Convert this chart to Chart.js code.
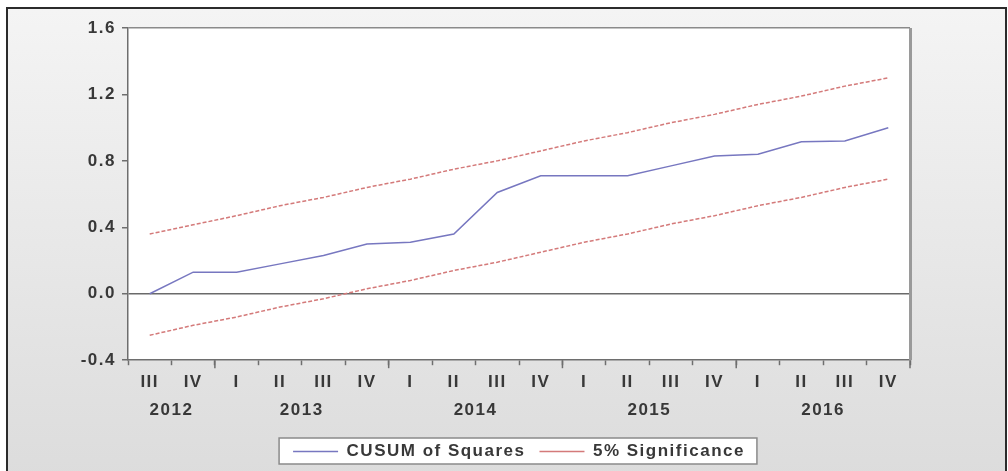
<!DOCTYPE html>
<html>
<head>
<meta charset="utf-8">
<script src="https://cdn.jsdelivr.net/npm/chart.js@4/dist/chart.umd.min.js"></script>
<style>
  html, body { margin: 0; padding: 0; background: #fff; }
  #frame {
    position: absolute; left: 6px; top: 7px; width: 997px; height: 470px;
    border: 2px solid #2b2b2b;
    background: linear-gradient(#f4f4f4, #dcdcdc);
  }
  #wrap { position: absolute; left: 0; top: 0; width: 1008px; height: 471px; }
</style>
</head>
<body>
<div id="frame"></div>
<div id="wrap"><canvas id="cusum" width="1008" height="471"></canvas></div>
<script>
// quarters 2012Q3 .. 2016Q4
var quarters = ['III', 'IV', 'I', 'II', 'III', 'IV', 'I', 'II', 'III', 'IV', 'I', 'II', 'III', 'IV', 'I', 'II', 'III', 'IV'];
var years = ['2012', '2013', '2014', '2015', '2016'];
var quartersPerYear = [2, 4, 4, 4, 4];

var cusumSq = [0.00, 0.13, 0.13, 0.18, 0.23, 0.30, 0.31, 0.36, 0.61, 0.71, 0.71, 0.71, 0.77, 0.83, 0.84, 0.915, 0.92, 1.00];
var upperBound = [0.36, 0.415, 0.47, 0.53, 0.58, 0.64, 0.69, 0.75, 0.80, 0.86, 0.92, 0.97, 1.03, 1.08, 1.14, 1.19, 1.25, 1.30];
var lowerBound = [-0.25, -0.19, -0.14, -0.08, -0.03, 0.03, 0.08, 0.14, 0.19, 0.25, 0.31, 0.36, 0.42, 0.47, 0.53, 0.58, 0.64, 0.69];

var yTicks = [-0.4, 0.0, 0.4, 0.8, 1.2, 1.6];

// year label positions = middle of each year's quarters (category index units)
var yearCenters = [];
var yearBounds = [];
(function () {
  var start = 0;
  quartersPerYear.forEach(function (n) {
    yearCenters.push(start + (n - 1) / 2);
    start += n;
    yearBounds.push(start);
  });
})();

var FONT = { family: "'Liberation Sans', Arial, sans-serif", size: 17, weight: 'bold' };
var TXT = '#383838';
var AXIS = '#6e6e6e';

function legendFrame(chart) {
  var hb = chart.legend && chart.legend.legendHitBoxes;
  if (!hb || !hb.length) return null;
  var first = hb[0], last = hb[hb.length - 1];
  var l = first.left - 14, r = last.left + last.width + 12;
  return { x: l, y: first.top - 5, w: r - l, h: first.height + 9 };
}

// wide lettering, white plot background, longer year ticks, legend frame
var decor = {
  id: 'decor',
  beforeUpdate: function (chart) {
    chart.ctx.letterSpacing = '1.5px';
  },
  beforeDraw: function (chart) {
    var a = chart.chartArea, ctx = chart.ctx;
    ctx.save();
    ctx.fillStyle = '#ffffff';
    ctx.fillRect(a.left, a.top, a.right - a.left, a.bottom - a.top);
    var f = legendFrame(chart);
    if (f) ctx.fillRect(f.x, f.y, f.w, f.h);
    ctx.restore();
  },
  afterDraw: function (chart) {
    var ctx = chart.ctx, x = chart.scales.x, a = chart.chartArea;
    ctx.save();
    ctx.strokeStyle = AXIS;
    ctx.lineWidth = 1.5;
    yearBounds.forEach(function (b) {
      var px = b >= quarters.length ? a.right : (x.getPixelForValue(b - 1) + x.getPixelForValue(b)) / 2;
      ctx.beginPath();
      ctx.moveTo(px, a.bottom);
      ctx.lineTo(px, a.bottom + 8);
      ctx.stroke();
    });
    // right frame of the plot
    ctx.strokeStyle = '#9a9a9a';
    ctx.lineWidth = 3;
    ctx.beginPath();
    ctx.moveTo(a.right + 0.5, a.top);
    ctx.lineTo(a.right + 0.5, a.bottom);
    ctx.stroke();
    var f = legendFrame(chart);
    if (f) {
      ctx.strokeStyle = '#8a8a8a';
      ctx.lineWidth = 1.5;
      ctx.strokeRect(f.x, f.y, f.w, f.h);
    }
    ctx.restore();
  }
};

new Chart(document.getElementById('cusum'), {
  type: 'line',
  data: {
    labels: quarters,
    datasets: [{
      label: 'CUSUM of Squares',
      data: cusumSq,
      borderColor: '#7777c0',
      borderWidth: 1.5,
      pointRadius: 0,
      fill: false,
      tension: 0
    }, {
      label: '5% Significance',
      data: upperBound,
      borderColor: '#d47a7a',
      borderWidth: 1.5,
      borderDash: [4, 2],
      pointRadius: 0,
      fill: false,
      tension: 0
    }, {
      label: 'lower',
      data: lowerBound,
      borderColor: '#d47a7a',
      borderWidth: 1.5,
      borderDash: [4, 2],
      pointRadius: 0,
      fill: false,
      tension: 0
    }]
  },
  options: {
    responsive: false,
    animation: false,
    layout: { padding: { top: 28, right: 98, left: 60, bottom: 1 } },
    plugins: {
      tooltip: { enabled: false },
      legend: {
        position: 'bottom',
        fullSize: false,
        labels: {
          font: FONT,
          color: TXT,
          usePointStyle: true,
          pointStyle: 'line',
          pointStyleWidth: 45,
          boxHeight: 14,
          padding: 14,
          filter: function (item) { return item.text !== 'lower'; }
        }
      }
    },
    scales: {
      x: {
        type: 'category',
        offset: true,
        grid: {
          offset: true,
          drawOnChartArea: false,
          tickLength: 5,
          tickColor: AXIS,
          tickWidth: 1.5
        },
        border: { color: AXIS, width: 1.5 },
        ticks: {
          font: FONT,
          color: TXT,
          padding: 7,
          maxRotation: 0,
          autoSkip: false
        }
      },
      xYear: {
        type: 'linear',
        position: 'bottom',
        min: -0.5,
        max: quarters.length - 0.5,
        grid: { display: false, drawTicks: false },
        border: { display: false },
        afterBuildTicks: function (scale) {
          scale.ticks = yearCenters.map(function (v) { return { value: v }; });
        },
        afterFit: function (scale) { scale.height += 7; },
        ticks: {
          font: FONT,
          color: TXT,
          padding: 1,
          maxRotation: 0,
          autoSkip: false,
          callback: function (v) {
            var i = yearCenters.indexOf(v);
            return i >= 0 ? years[i] : '';
          }
        }
      },
      y: {
        min: -0.4,
        max: 1.6,
        afterBuildTicks: function (scale) {
          scale.ticks = yTicks.map(function (v) { return { value: v }; });
        },
        afterFit: function (scale) { scale.width = 68; },
        grid: {
          tickLength: 6,
          tickColor: AXIS,
          tickWidth: 1.5,
          color: function (ctx) {
            if (ctx.tick && Math.abs(ctx.tick.value) < 1e-9) return '#6a6a6a';
            if (ctx.tick && Math.abs(ctx.tick.value - 1.6) < 1e-9) return '#8a8a8a';
            return 'rgba(0,0,0,0)';
          },
          lineWidth: 1.5
        },
        border: { color: AXIS, width: 1.5 },
        ticks: {
          font: FONT,
          color: TXT,
          padding: 6,
          callback: function (v) { return Number(v).toFixed(1); }
        }
      }
    }
  },
  plugins: [decor]
});
</script>
</body>
</html>
